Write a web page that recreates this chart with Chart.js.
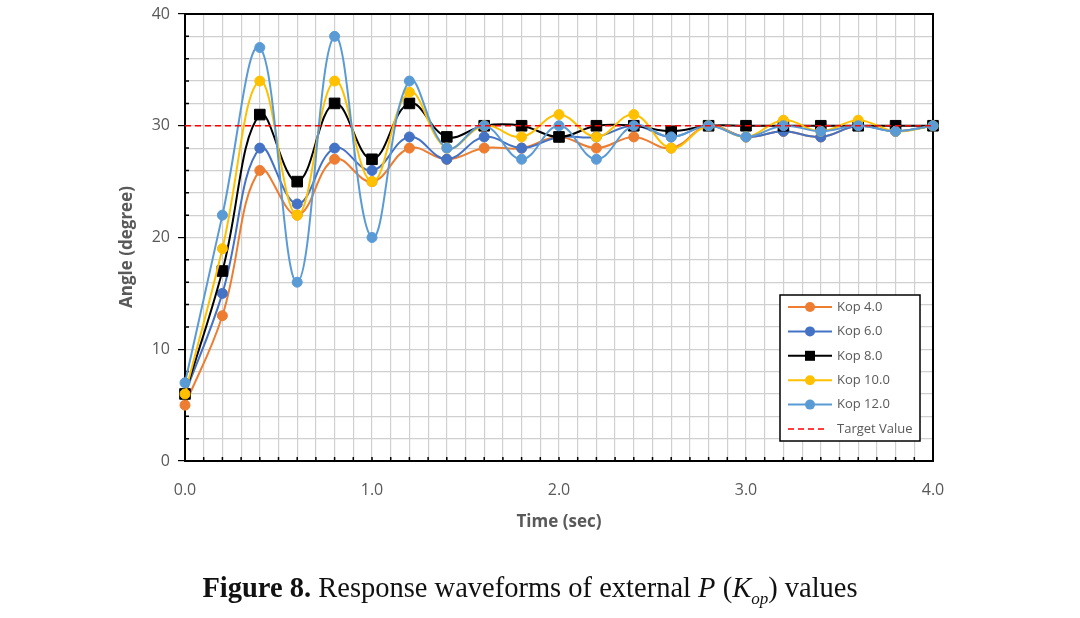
<!DOCTYPE html>
<html>
<head>
<meta charset="utf-8">
<script src="https://cdn.jsdelivr.net/npm/chart.js@4.4.0/dist/chart.umd.min.js"></script>
<style>
body{margin:0;background:#fff;}
#wrap{position:relative;width:1080px;height:618px;}
#caption{position:absolute;left:0;top:570px;width:1060px;text-align:center;font-family:"Liberation Serif","Times New Roman",serif;font-size:28.5px;line-height:36px;color:#111;}
#caption sub{font-size:17px;}
</style>
</head>
<body>
<div id="wrap">
<canvas id="myChart" width="1080" height="618"></canvas>
<div id="caption"><b>Figure 8.</b> Response waveforms of external <i>P</i> (<i>K<sub>op</sub></i>) values</div>
</div>
<script>
// Sample times (sec)
const times=[0.0,0.2,0.4,0.6,0.8,1.0,1.2,1.4,1.6,1.8,2.0,2.2,2.4,2.6,2.8,3.0,3.2,3.4,3.6,3.8,4.0];
// Angle (degree) for each Kop value
const kop4 =[5,13,26,22,27,25,28,27,28,28,29,28,29,28,30,29,29.5,29,30,29.5,30];
const kop6 =[6,15,28,23,28,26,29,27,29,28,29,29,30,29,30,29,29.5,29,30,29.5,30];
const kop8 =[6,17,31,25,32,27,32,29,30,30,29,30,30,29.5,30,30,30,30,30,30,30];
const kop10=[6,19,34,22,34,25,33,28,30,29,31,29,31,28,30,29,30.5,29.5,30.5,29.5,30];
const kop12=[7,22,37,16,38,20,34,28,30,27,30,27,30,29,30,29,30,29.5,30,29.5,30];
const targetValue=30;
const seriesNames=['Kop 4.0','Kop 6.0','Kop 8.0','Kop 10.0','Kop 12.0','Target Value'];
const xTickLabels=['0.0','1.0','2.0','3.0','4.0'];
const yTickLabels=['0','10','20','30','40'];

const grey='#595959';
const tickFont={family:'"Open Sans", sans-serif',size:16};

function toPoints(ys){
    return ys.map((y,i)=>({x:times[i],y:y}));
}
function series(label,ys,color,style,order){
    return {
        label:label,
        data:toPoints(ys),
        borderColor:color,
        backgroundColor:color,
        borderWidth:2,
        pointStyle:style,
        pointRadius:style==='rect'?7.5:5,
        pointBorderWidth:1,
        pointBorderColor:color,
        tension:0.4,
        clip:false,
        order:order
    };
}

// black frame round the plot, plus Excel style inward minor ticks
const frame={
    id:'frame',
    beforeDatasetsDraw(chart){
        const ctx=chart.ctx, a=chart.chartArea;
        const xs=chart.scales.x, ys=chart.scales.y;
        ctx.save();
        ctx.strokeStyle='#000';
        ctx.lineWidth=2;
        ctx.strokeRect(a.left,a.top,a.right-a.left,a.bottom-a.top);
        ctx.lineWidth=1.5;
        ctx.beginPath();
        for(let v=2; v<40; v+=2){
            if(v%10===0) continue;
            const py=ys.getPixelForValue(v);
            ctx.moveTo(a.left,py); ctx.lineTo(a.left+4,py);
        }
        for(let k=1; k<40; k++){
            const px=xs.getPixelForValue(k/10);
            ctx.moveTo(px,a.bottom); ctx.lineTo(px,a.bottom-4);
        }
        ctx.stroke();
        ctx.restore();
    }
};

// axis titles
const axisTitles={
    id:'axisTitles',
    afterDraw(chart){
        const ctx=chart.ctx, a=chart.chartArea;
        ctx.save();
        ctx.fillStyle=grey;
        ctx.font='bold 17px "Open Sans", sans-serif';
        ctx.textAlign='center';
        ctx.textBaseline='middle';
        ctx.fillText('Time (sec)',(a.left+a.right)/2,522);
        ctx.translate(127,247);
        ctx.rotate(-Math.PI/2);
        ctx.fillText('Angle (degree)',0,0);
        ctx.restore();
    }
};

// boxed legend inside the plot
const boxLegend={
    id:'boxLegend',
    afterDatasetsDraw(chart){
        const ctx=chart.ctx, a=chart.chartArea;
        const w=140, h=146;
        const x0=a.right-13-w, y0=a.bottom-20-h;
        ctx.save();
        ctx.fillStyle='#fff';
        ctx.fillRect(x0,y0,w,h);
        ctx.strokeStyle='#000';
        ctx.lineWidth=1.5;
        ctx.strokeRect(x0,y0,w,h);
        const order=[0,1,2,3,4,5];
        order.forEach((i,row)=>{
            const ds=chart.data.datasets[i];
            const cy=y0+12+row*24.4;
            ctx.strokeStyle=ds.borderColor;
            ctx.lineWidth=ds.borderDash?1.5:2;
            ctx.setLineDash(ds.borderDash||[]);
            ctx.beginPath();
            ctx.moveTo(x0+8,cy);
            ctx.lineTo(x0+(ds.borderDash?48:52),cy);
            ctx.stroke();
            ctx.setLineDash([]);
            if(ds.pointRadius>0){
                ctx.fillStyle=ds.backgroundColor;
                if(ds.pointStyle==='rect'){
                    ctx.fillRect(x0+30-5,cy-5,10,10);
                }else{
                    ctx.beginPath();
                    ctx.arc(x0+30,cy,5,0,Math.PI*2);
                    ctx.fill();
                }
            }
            ctx.fillStyle=grey;
            ctx.font='13px "Open Sans", sans-serif';
            ctx.textAlign='left';
            ctx.textBaseline='middle';
            ctx.fillText(ds.label,x0+57,cy);
        });
        ctx.restore();
    }
};

function renderChart(){
    const ctx=document.getElementById('myChart').getContext('2d');
    new Chart(ctx,{
        type:'line',
        data:{
            datasets:[
                series(seriesNames[0],kop4,'#ED7D31','circle',6),
                series(seriesNames[1],kop6,'#4472C4','circle',5),
                series(seriesNames[2],kop8,'#000000','rect',4),
                series(seriesNames[3],kop10,'#FFC000','circle',3),
                series(seriesNames[4],kop12,'#5B9BD5','circle',2),
                {
                    label:seriesNames[5],
                    data:[{x:times[0],y:targetValue},{x:times[times.length-1],y:targetValue}],
                    borderColor:'#FF0000',
                    backgroundColor:'#FF0000',
                    borderWidth:1.5,
                    borderDash:[6,4],
                    pointRadius:0,
                    tension:0,
                    order:1
                }
            ]
        },
        options:{
            responsive:false,
            animation:false,
            devicePixelRatio:1,
            layout:{padding:{left:0,right:147,top:14,bottom:0}},
            plugins:{
                legend:{display:false},
                tooltip:{enabled:false}
            },
            scales:{
                x:{
                    type:'linear',
                    min:0,
                    max:4,
                    afterFit(scale){scale.height=157; scale.paddingLeft=0; scale.paddingRight=0;},
                    ticks:{
                        stepSize:0.1,
                        autoSkip:false,
                        maxRotation:0,
                        padding:14,
                        color:grey,
                        font:tickFont,
                        callback(v){
                            const r=Math.round(v);
                            return Math.abs(v-r)<1e-6 ? xTickLabels[r] : '';
                        }
                    },
                    grid:{
                        color:'#D0D0D0',
                        lineWidth:1.2,
                        tickLength:6,
                        tickColor:'rgba(0,0,0,0)'
                    },
                    border:{color:'#000',width:2}
                },
                y:{
                    min:0,
                    max:40,
                    afterFit(scale){scale.width=185; scale.paddingTop=0; scale.paddingBottom=0;},
                    ticks:{
                        stepSize:2,
                        autoSkip:false,
                        padding:8,
                        color:grey,
                        font:tickFont,
                        callback(v){
                            return v%10===0 ? yTickLabels[v/10] : '';
                        }
                    },
                    grid:{
                        color:'#D0D0D0',
                        lineWidth:1.2,
                        tickLength:7,
                        tickColor(c){return c.tick && c.tick.value%10===0 ? '#000' : 'rgba(0,0,0,0)';}
                    },
                    border:{color:'#000',width:2}
                }
            }
        },
        plugins:[frame,boxLegend,axisTitles]
    });
}
renderChart();
</script>
</body>
</html>
